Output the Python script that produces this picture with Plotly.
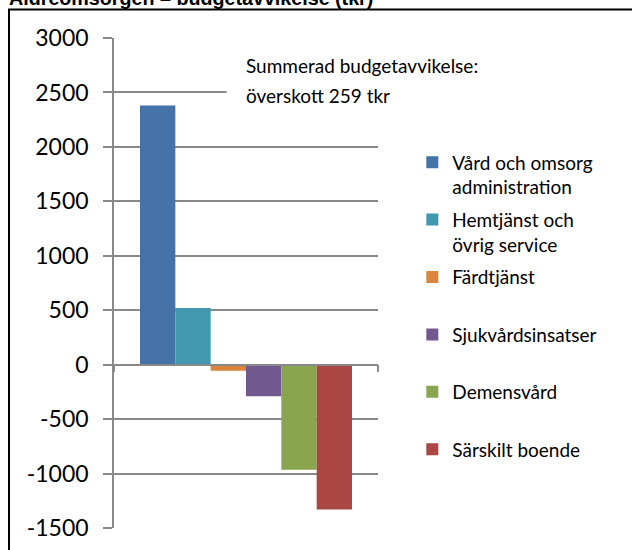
import plotly.graph_objects as go

# budgetavvikelse per verksamhet (tkr)
categories = ["Budgetavvikelse"]
series_names = [
    "Vård och omsorg<br>administration",
    "Hemtjänst och<br>övrig service",
    "Färdtjänst<br> ",
    "Sjukvårdsinsatser<br> ",
    "Demensvård<br> ",
    "Särskilt boende<br> ",
]
series_values = [2380, 520, -55, -290, -965, -1330]
series_colors = ["#4572A7", "#4198AF", "#DB843D", "#71588F", "#89A54E", "#AA4643"]

y_tickvals = [-1500, -1000, -500, 0, 500, 1000, 1500, 2000, 2500, 3000]
y_ticktext = ["-1500", "-1000", "-500", "0", "500", "1000", "1500", "2000", "2500", "3000"]

title_text = "Äldreomsorgen – budgetavvikelse (tkr)"
note_line1 = "Summerad budgetavvikelse:"
note_line2 = "överskott 259 tkr"

grid_col = "#898989"

fig = go.Figure()
for i, (name, val, col) in enumerate(zip(series_names, series_values, series_colors)):
    fig.add_bar(x=categories, y=[val], name=name, marker_color=col,
                marker_line_width=0, legendgroup="g%d" % i)

fig.update_layout(
    width=632, height=550,
    margin=dict(l=114, r=254, t=38, b=22, autoexpand=False),
    paper_bgcolor="white", plot_bgcolor="white",
    barmode="group", bargap=0.197, bargroupgap=0,
    font=dict(family="Lato", size=19, color="black"),
    showlegend=True,
    legend=dict(x=1.13, y=0.785, xanchor="left", yanchor="top",
                font=dict(family="Lato", size=19, color="black"),
                traceorder="grouped", tracegroupgap=5,
                valign="top", bgcolor="rgba(0,0,0,0)"),
)

fig.update_xaxes(
    type="category", showticklabels=False, showgrid=False, automargin=False,
    anchor="free", position=1 / 3,
    showline=True, linecolor=grid_col, linewidth=1.5,
    ticks="outside", tickson="boundaries", ticklen=7,
    tickcolor=grid_col, tickwidth=1.5,
)
fig.update_yaxes(
    range=[-1500, 3000], tickvals=y_tickvals, ticktext=y_ticktext,
    showgrid=True, gridcolor=grid_col, gridwidth=1.5, zeroline=False,
    showline=True, linecolor=grid_col, linewidth=1.5, automargin=False,
    ticks="outside", ticklen=9, tickcolor=grid_col, tickwidth=1.5,
    ticklabelstandoff=10,
    tickfont=dict(family="Lato", size=23, color="black"),
)

# textruta med vit bakgrund
fig.add_annotation(text=note_line2, xref="paper", yref="y", x=0.424, y=2468,
                   xanchor="left", yanchor="middle", showarrow=False,
                   bgcolor="white", borderpad=19,
                   font=dict(family="Lato", size=19, color="black"))
fig.add_annotation(text=note_line1, xref="paper", yref="y", x=0.424, y=2743,
                   xanchor="left", yanchor="middle", showarrow=False,
                   borderpad=19,
                   font=dict(family="Lato", size=19, color="black"))

# rubriken, delvis utanför bild
fig.add_annotation(text="<b>" + title_text + "</b>", xref="paper", yref="paper",
                   x=-0.4015, y=1.058, xanchor="left", yanchor="bottom",
                   showarrow=False, borderpad=0,
                   font=dict(family="Liberation Sans", size=19.7, color="black"))

# ram runt diagrammet
fig.add_shape(type="rect", xref="paper", yref="paper",
              x0=-0.3977, x1=2.0, y0=-0.2, y1=1.0582,
              line=dict(color="black", width=2), fillcolor="rgba(0,0,0,0)")

# ingen sidmarginal, så att diagrammet börjar i hörnet
fig.write_html("out.html", config={"displayModeBar": False},
               post_script="document.body.style.margin='0';")
